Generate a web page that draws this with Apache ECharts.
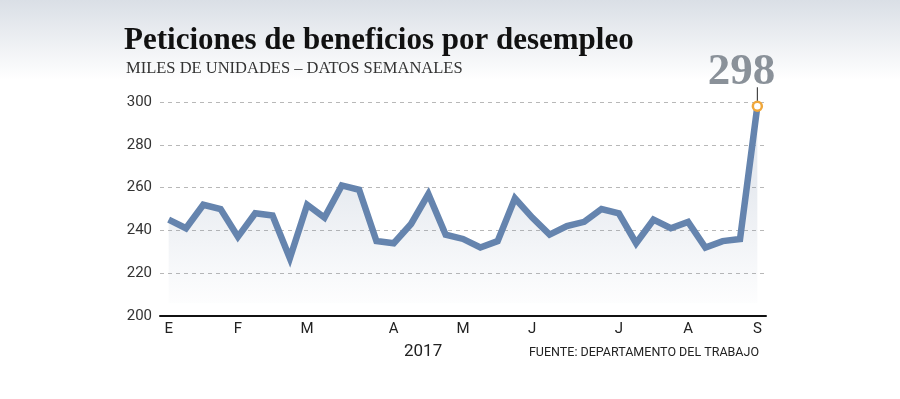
<!DOCTYPE html>
<html>
<head>
<meta charset="utf-8">
<script src="https://cdn.jsdelivr.net/npm/echarts@6/dist/echarts.min.js"></script>
<style>
html,body{margin:0;padding:0;background:#fff;}
#chart{width:900px;height:399px;}
</style>
</head>
<body>
<div id="chart"></div>
<script>
// semanas de enero a septiembre 2017 (miles)
var weeks = [];
for (var i = 0; i < 35; i++) { weeks.push(i); }
var claims = [245, 241, 252, 250, 237, 248, 247, 227, 252, 246, 261, 259, 235, 234, 243, 257, 238, 236,
	232, 235, 255, 246, 238, 242, 244, 250, 248, 234, 245, 241, 244, 232, 235, 236, 298];
// etiqueta de mes por indice de semana
var monthLabels = {0:'E', 4:'F', 8:'M', 13:'A', 17:'M', 21:'J', 26:'J', 30:'A', 34:'S'};
var yTicks = [200, 220, 240, 260, 280, 300];

var narrow = "Roboto,'DejaVu Sans Condensed',sans-serif";
var lineColor = '#6584ae';
var dotColor = '#f0a73a';

var chart = echarts.init(document.getElementById('chart'), null, {renderer:'canvas'});

var seriesData = claims.map(function(v, i){
	if (i === claims.length - 1) {
		return {
			value: v,
			symbol: 'circle',
			symbolSize: 9,
			itemStyle: {color: '#fff', borderColor: dotColor, borderWidth: 2.5}
		};
	}
	return v;
});

var option = {
	animation: false,
	backgroundColor: '#fff',
	grid: {left: 160, right: 134, top: 102, bottom: 83},
	xAxis: {
		type: 'category',
		data: weeks,
		boundaryGap: true,
		axisLine: {lineStyle: {color: '#111', width: 2}},
		axisTick: {show: false},
		axisLabel: {
			interval: 0,
			margin: 6,
			color: '#222',
			fontSize: 15,
			fontFamily: narrow,
			formatter: function(v){ return monthLabels[v] || ''; }
		},
		splitLine: {show: false}
	},
	yAxis: {
		type: 'value',
		min: yTicks[0],
		max: yTicks[yTicks.length - 1],
		interval: 20,
		axisLine: {show: false},
		axisTick: {show: false},
		axisLabel: {color: '#333', fontSize: 15, fontFamily: narrow, margin: 8},
		splitLine: {lineStyle: {color: '#b8b8b8', type: [4, 4], width: 1}}
	},
	series: [{
		type: 'line',
		data: seriesData,
		symbol: 'none',
		z: 3,
		lineStyle: {color: lineColor, width: 6.5, join: 'miter'},
		areaStyle: {
			origin: 206,
			color: new echarts.graphic.LinearGradient(0, 0, 0, 1, [
				{offset: 0, color: 'rgba(110,132,165,0.3)'},
				{offset: 0.45, color: 'rgba(110,132,165,0.22)'},
				{offset: 0.85, color: 'rgba(110,132,165,0.07)'},
				{offset: 1, color: 'rgba(110,132,165,0.02)'}
			])
		}
	}],
	graphic: [
		{
			type: 'rect', z: -10, silent: true,
			shape: {x: 0, y: 0, width: 900, height: 80},
			style: {fill: new echarts.graphic.LinearGradient(0, 0, 0, 1, [
				{offset: 0, color: '#dadfe6'},
				{offset: 1, color: '#ffffff'}
			])}
		},
		{
			type: 'text', left: 124, top: 25,
			style: {text: 'Peticiones de beneficios por desempleo', fill: '#111',
				font: "bold 31px 'Liberation Serif','DejaVu Serif',serif"}
		},
		{
			type: 'text', left: 126, top: 60,
			style: {text: 'MILES DE UNIDADES – DATOS SEMANALES', fill: '#333',
				font: "16.5px 'Liberation Serif','DejaVu Serif',serif"}
		},
		{
			type: 'text', left: 404, top: 343,
			style: {text: '2017', fill: '#222', font: "17px " + narrow}
		},
		{
			type: 'text', right: 141, top: 346,
			style: {text: 'FUENTE: DEPARTAMENTO DEL TRABAJO', fill: '#222', font: "12.5px " + narrow}
		}
	]
};
chart.setOption(option);

// etiqueta del ultimo valor, situada con la escala del grafico
var last = claims.length - 1;
var p = chart.convertToPixel({xAxisIndex: 0, yAxisIndex: 0}, [last, claims[last]]);
chart.setOption({
	graphic: option.graphic.concat([
		{
			type: 'line', z: 2,
			shape: {x1: p[0], y1: p[1] - 5, x2: p[0], y2: p[1] - 19},
			style: {stroke: '#222', lineWidth: 1}
		},
		{
			type: 'text', z: 2,
			x: p[0] + 18, y: p[1] - 56,
			style: {text: String(claims[last]), fill: '#8a9199', align: 'right',
				font: "bold 45px 'Liberation Serif','DejaVu Serif',serif"}
		}
	])
});
</script>
</body>
</html>
